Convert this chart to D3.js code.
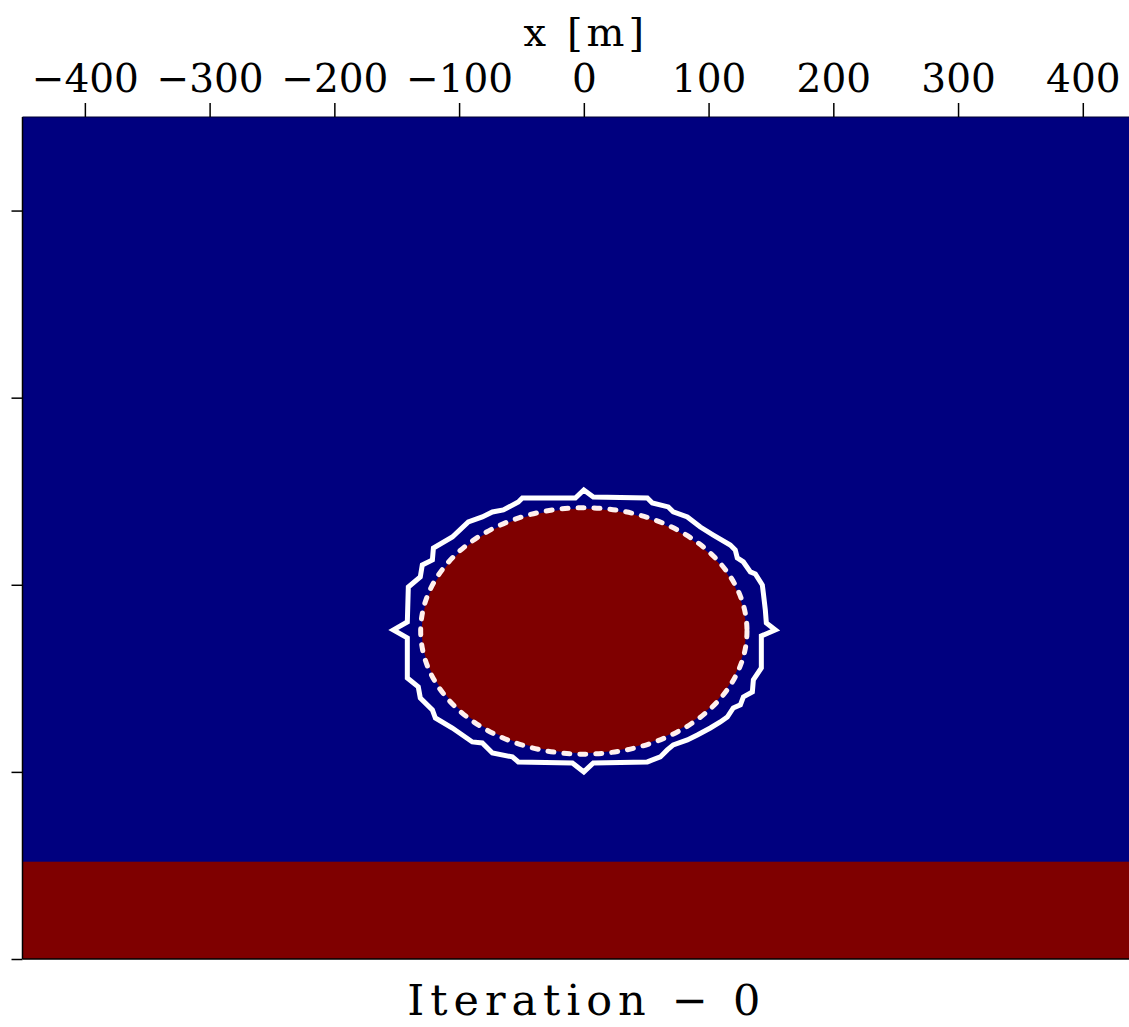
<!DOCTYPE html>
<html>
<head>
<meta charset="utf-8">
<script src="https://cdn.jsdelivr.net/npm/d3@7"></script>
<style>
  html, body { margin: 0; padding: 0; background: #ffffff; }
  svg { display: block; }
</style>
</head>
<body>
<svg id="chart" width="1129" height="1027"></svg>
<script>
// Model extent (metres): lateral x and depth z
const xDomain = [-450, 450];
const zDomain = [0, 675];

// Top axis ticks (x) and left axis ticks (z, unlabelled)
const xTicks = [-400, -300, -200, -100, 0, 100, 200, 300, 400];
const zTicks = [75, 225, 375, 525, 675];

// Bottom layer: top of the layer in depth
const layerTop = [597];

// True anomaly: ellipse centre and semi-axes (m)
const anomalyCenter = [0, 412];
const anomalyRadii = [130, 98];

// Level-set contour at iteration 0 (x, z in m)
const contourX = [0, 7.6, 50.9, 54.9, 67.7, 71.7, 83.0, 93.4, 103.8, 117.4, 121.4, 123.0, 127.9, 133.5, 137.5, 143.1, 143.9, 145.5, 146.3, 153.5,
  142.3, 142.3, 135.9, 135.1, 127.9, 125.5, 119.8, 115.0, 109.4, 101.4, 91.0, 83.0, 71.7, 66.9, 61.3, 50.9, 7.6, 0,
  -9.2, -52.5, -57.3, -73.3, -81.4, -89.4, -105.4, -119.0, -121.4, -131.1, -132.7, -141.5, -141.5, -152.7,
  -141.5, -140.7, -131.1, -129.5, -121.4, -120.6, -105.4, -92.6, -81.4, -73.3, -64.5, -52.5, -49.3, -6.8];
const contourZ = [299.0, 304.6, 305.4, 309.4, 312.6, 316.6, 320.6, 328.7, 335.1, 343.1, 347.1, 353.5, 356.7, 364.7, 366.3, 375.2, 381.6, 395.2, 405.6, 411.2,
  416.0, 441.7, 451.3, 460.9, 464.9, 471.3, 473.7, 481.0, 485.0, 489.8, 495.4, 499.4, 503.4, 507.4, 513.0, 517.0, 517.8, 525.0,
  517.8, 517.0, 513.0, 509.8, 501.8, 501.0, 489.8, 481.8, 475.3, 465.7, 456.9, 449.7, 417.6, 411.2,
  404.8, 376.8, 368.7, 359.1, 355.1, 345.5, 336.7, 324.6, 320.6, 316.6, 315.0, 308.6, 305.4, 305.4];

const xLabel = "x [m]";
const title = "Iteration − 0";

const colorLow = "#00007f";
const colorHigh = "#7f0000";
const fontFamily = "'DejaVu Serif', 'Liberation Serif', serif";

(function draw() {
  const svg = d3.select("#chart");
  const panelLeft = 22.5, panelTop = 117, panelBottom = 959;
  const pxPerM = (panelBottom - panelTop) / (zDomain[1] - zDomain[0]);
  const panelRight = panelLeft + (xDomain[1] - xDomain[0]) * pxPerM;

  const x = d3.scaleLinear().domain(xDomain).range([panelLeft, panelRight]);
  const z = d3.scaleLinear().domain(zDomain).range([panelTop, panelBottom]);

  svg.append("defs").append("clipPath").attr("id", "plot-clip")
    .append("rect").attr("x", panelLeft).attr("y", panelTop)
    .attr("width", panelRight - panelLeft).attr("height", panelBottom - panelTop);

  const plot = svg.append("g").attr("clip-path", "url(#plot-clip)");

  // Background medium
  plot.append("rect")
    .attr("x", x(xDomain[0])).attr("y", z(zDomain[0]))
    .attr("width", x(xDomain[1]) - x(xDomain[0]))
    .attr("height", z(zDomain[1]) - z(zDomain[0]))
    .attr("fill", colorLow);

  // Bottom high-value layer
  plot.selectAll("rect.layer").data(layerTop).join("rect")
    .attr("class", "layer")
    .attr("x", x(xDomain[0])).attr("y", d => z(d))
    .attr("width", x(xDomain[1]) - x(xDomain[0]))
    .attr("height", d => z(zDomain[1]) - z(d))
    .attr("fill", colorHigh);

  // Anomaly body
  const rxPx = x(anomalyRadii[0]) - x(0);
  const rzPx = z(anomalyRadii[1]) - z(0);
  plot.append("ellipse")
    .attr("cx", x(anomalyCenter[0])).attr("cy", z(anomalyCenter[1]))
    .attr("rx", rxPx).attr("ry", rzPx)
    .attr("fill", colorHigh);

  // True boundary, dashed
  plot.append("ellipse")
    .attr("cx", x(anomalyCenter[0])).attr("cy", z(anomalyCenter[1]))
    .attr("rx", rxPx + 1).attr("ry", rzPx + 1)
    .attr("fill", "none")
    .attr("stroke", "#fff0ee")
    .attr("stroke-width", 5)
    .attr("stroke-linecap", "round")
    .attr("stroke-dasharray", "6,10");

  // Current level-set contour
  const pts = contourX.map((v, i) => [v, contourZ[i]]);
  plot.append("path")
    .datum(pts)
    .attr("d", d3.line().x(d => x(d[0])).y(d => z(d[1])).curve(d3.curveLinearClosed))
    .attr("fill", "none")
    .attr("stroke", "#ffffff")
    .attr("stroke-width", 5)
    .attr("stroke-linejoin", "miter");

  // Frame
  svg.append("line").attr("x1", panelLeft).attr("x2", panelLeft).attr("y1", panelTop).attr("y2", panelBottom)
    .attr("stroke", "#000").attr("stroke-width", 1.5);
  svg.append("line").attr("x1", panelLeft).attr("x2", panelRight).attr("y1", panelBottom).attr("y2", panelBottom)
    .attr("stroke", "#000").attr("stroke-width", 1.5);
  svg.append("line").attr("x1", panelLeft).attr("x2", panelRight).attr("y1", panelTop).attr("y2", panelTop)
    .attr("stroke", "#000033").attr("stroke-width", 1);

  // Top axis
  const fmt = d => d < 0 ? "−" + Math.abs(d) : String(d);
  const axTop = svg.append("g").attr("transform", `translate(0,${panelTop})`)
    .call(d3.axisTop(x).tickValues(xTicks).tickFormat(fmt).tickSize(14).tickPadding(11).tickSizeOuter(0));
  axTop.select(".domain").remove();
  axTop.selectAll(".tick line").attr("stroke", "#000").attr("stroke-width", 1.5);
  axTop.selectAll(".tick text")
    .attr("font-family", fontFamily).attr("font-size", 39).attr("fill", "#000");

  // Left axis (ticks only)
  const axLeft = svg.append("g").attr("transform", `translate(${panelLeft},0)`)
    .call(d3.axisLeft(z).tickValues(zTicks).tickFormat("").tickSize(11).tickSizeOuter(0));
  axLeft.select(".domain").remove();
  axLeft.selectAll(".tick line").attr("stroke", "#000").attr("stroke-width", 1.5);

  // Axis label
  svg.append("text")
    .attr("x", x(0) + 2).attr("y", 46)
    .attr("text-anchor", "middle")
    .attr("font-family", fontFamily).attr("font-size", 40)
    .attr("letter-spacing", 4)
    .text(xLabel);

  // Title below the panel
  svg.append("text")
    .attr("x", x(0) + 3).attr("y", 1015)
    .attr("text-anchor", "middle")
    .attr("font-family", fontFamily).attr("font-size", 43)
    .attr("letter-spacing", 6)
    .text(title);
})();
</script>
</body>
</html>
